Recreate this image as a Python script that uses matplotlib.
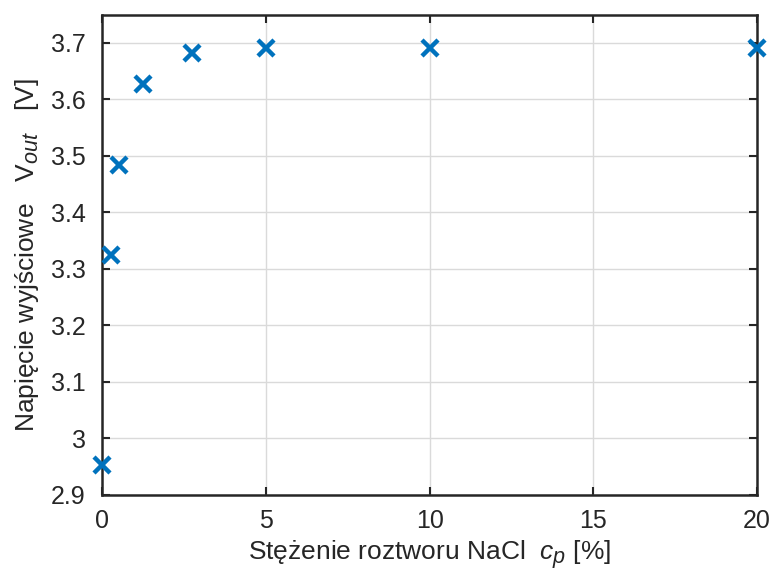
import matplotlib
matplotlib.use("Agg")
import matplotlib.pyplot as plt
import matplotlib._mathtext as _mt

conc = [0, 0.25, 0.5, 1.25, 2.75, 5, 10, 20]
vout = [2.953, 3.324, 3.484, 3.627, 3.682, 3.691, 3.690, 3.690]
xticks = [0, 5, 10, 15, 20]
yticks = [2.9, 3.0, 3.1, 3.2, 3.3, 3.4, 3.5, 3.6, 3.7]
ytick_labels = ["2.9", "3", "3.1", "3.2", "3.3", "3.4", "3.5", "3.6", "3.7"]

try:
    _mt.SHRINK_FACTOR = 0.82
except Exception:
    pass

plt.rcParams['font.family'] = ['Liberation Sans', 'DejaVu Sans']
plt.rcParams['mathtext.fontset'] = 'custom'
plt.rcParams['mathtext.rm'] = 'Liberation Sans'
plt.rcParams['mathtext.it'] = 'Liberation Sans:italic'

fig = plt.figure(figsize=(7.73, 5.71), dpi=100)
ax = fig.add_axes([0.1326, 0.1331, 0.9793 - 0.1326, 0.9746 - 0.1331])

ax.plot(conc, vout, linestyle='none', marker='x', color='#0072BD',
        markersize=11, markeredgewidth=3.2, clip_on=False, zorder=5)

ax.set_xlim(0, 20)
ax.set_ylim(2.9, 3.75)
ax.set_xticks(xticks)
ax.set_yticks(yticks)
ax.set_yticklabels(ytick_labels)
ax.grid(True, color='#dadada', linewidth=1.0)
ax.set_axisbelow(True)
ax.tick_params(direction='in', length=6, width=1.5, labelsize=18,
               top=True, right=True, colors='#262626', pad=10)
ax.tick_params(axis='y', pad=12)
for s in ax.spines.values():
    s.set_linewidth(1.8)
    s.set_color('#262626')

ax.set_xlabel('Stężenie roztworu NaCl  $\\it{c}_{\\it{p}}$ [%]', fontsize=19, color='#262626', labelpad=4)
ax.set_ylabel('Napięcie wyjściowe   V$_{\\it{out}}$   [V]', fontsize=19, color='#262626', labelpad=7)

fig.savefig('out.png', dpi=100)
